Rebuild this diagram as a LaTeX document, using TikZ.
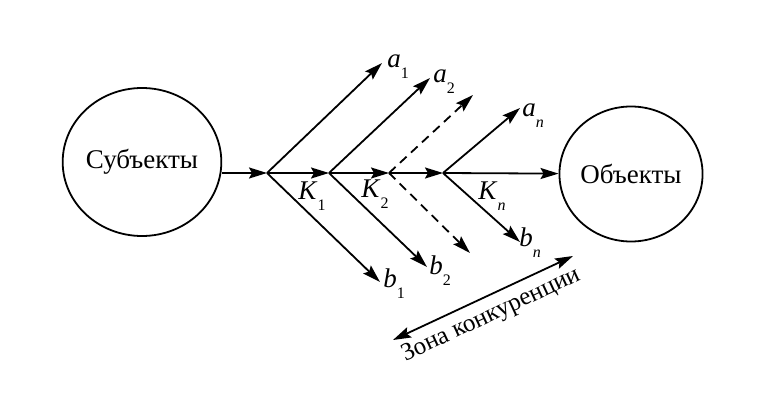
\documentclass[tikz,border=0pt]{standalone}
\usepackage{fontspec}
\setmainfont{Liberation Serif}
\usetikzlibrary{arrows.meta,shapes.geometric}
\newcommand\sublbl[2]{\textit{#1}\raisebox{-0.4em}{\fontsize{16}{16}\selectfont #2}}
\begin{document}
\begin{tikzpicture}[x=1pt,y=-1pt,
  every node/.style={font=\fontsize{27}{30}\selectfont},
  tip/.tip={Stealth[length=18pt,width=11pt,inset=3pt]},
  conn/.style={line width=1.8pt,-tip},
  dconn/.style={conn,dash pattern=on 9pt off 6pt},
  zconn/.style={line width=1.8pt,tip-tip},
  circ/.style={draw,line width=1.8pt,ellipse,inner sep=0pt},
  lbl/.style={inner sep=0pt}
]
\useasboundingbox (0,0) rectangle (759,398);
\node[circ,minimum width=134pt,minimum height=148pt] (subj) at (142,162) {Субъекты};
\node[circ,minimum width=135pt,minimum height=135pt] (obj) at (631,174) {Объекты};
\coordinate (f1) at (267,173);
\coordinate (k1) at (329,173);
\coordinate (k2) at (389,173);
\coordinate (kn) at (443,173);
\coordinate (a1) at (382,63);
\coordinate (b1) at (380,282);
\coordinate (a2) at (430,78);
\coordinate (b2) at (427,267);
\coordinate (ad) at (473,95);
\coordinate (bd) at (470,253);
\coordinate (an) at (520,108);
\coordinate (bn) at (520,242);
\coordinate (z1) at (393,340);
\coordinate (z2) at (573,256);
% main line
\draw[conn] (f1 -| subj.east) -- (f1);
\draw[conn] (f1) -- (k1);
\draw[conn] (k1) -- (k2);
\draw[conn] (k2) -- (kn);
\draw[conn] (kn) -- (obj);
% branches
\draw[conn] (f1) -- (a1);
\draw[conn] (f1) -- (b1);
\draw[conn] (k1) -- (a2);
\draw[conn] (k1) -- (b2);
\draw[dconn] (k2) -- (ad);
\draw[dconn] (k2) -- (bd);
\draw[conn] (kn) -- (an);
\draw[conn] (kn) -- (bn);
% labels
\node[lbl] (la1) at (398,67) {\sublbl{a}{1}};
\node[lbl] (la2) at (444,82) {\sublbl{a}{2}};
\node[lbl] (lan) at (533,116) {\sublbl{a}{\textit{n}}};
\node[lbl] (lb1) at (394,284) {\sublbl{b}{1}};
\node[lbl] (lb2) at (440,271) {\sublbl{b}{2}};
\node[lbl] (lbn) at (530,243) {\sublbl{b}{\textit{n}}};
\node[lbl] (lk1) at (312,196) {\sublbl{K}{1}};
\node[lbl] (lk2) at (375,194) {\sublbl{K}{2}};
\node[lbl] (lkn) at (492,196) {\sublbl{K}{\textit{n}}};
% competition zone
\draw[zconn] (z1) -- (z2) node[midway,sloped,below=4pt,font=\fontsize{25}{30}\selectfont] (zl) {Зона конкуренции};
\end{tikzpicture}
\end{document}
